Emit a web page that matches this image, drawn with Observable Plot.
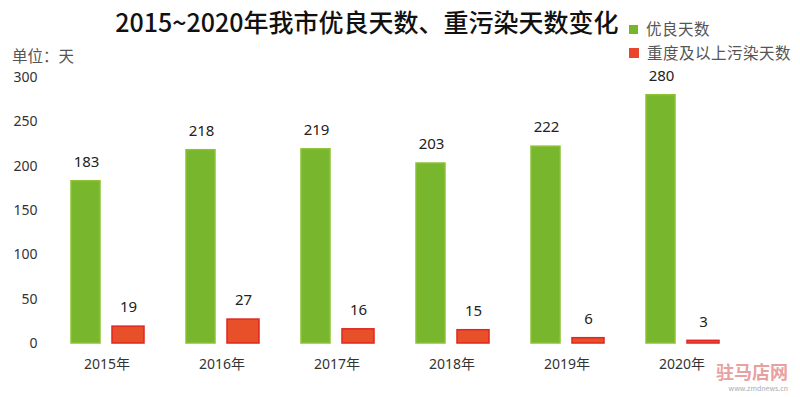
<!DOCTYPE html>
<html>
<head>
<meta charset="utf-8">
<script src="https://cdn.jsdelivr.net/npm/d3@7"></script>
<script src="https://cdn.jsdelivr.net/npm/@observablehq/plot@0.6"></script>
<style>
  html, body { margin: 0; padding: 0; background: #fff; }
  #wrap { position: relative; width: 800px; height: 397px; overflow: hidden;
          font-family: "Noto Sans CJK SC", "Noto Sans", sans-serif; }
  #title { position: absolute; left: 0; top: 8px; width: 734px; text-align: center; line-height: 1.1;
           font-size: 25px; font-weight: 500; color: #111; white-space: nowrap; }
  #unit { position: absolute; left: 12px; top: 48px; font-size: 15.5px; line-height: 1; color: #555; }
  .leg { position: absolute; left: 629px; font-size: 15.5px; line-height: 1.2; color: #555; white-space: nowrap; letter-spacing: 0.5px; }
  .leg i { display: inline-block; width: 9px; height: 9px; margin-right: 8px; vertical-align: 1px; }
  #wm { position: absolute; left: 716px; top: 362px; font-size: 18px; line-height: 1; color: #e9a0a0; font-weight: bold; }
  #wm2 { position: absolute; right: 12px; top: 385px; font-size: 7px; line-height: 1; color: #aaa; white-space: nowrap; }
</style>
</head>
<body>
<div id="wrap">
  <div id="chart"></div>
  <div id="title">2015~2020年我市优良天数、重污染天数变化</div>
  <div id="unit">单位：天</div>
  <div class="leg" style="top:19px"><i style="background:#76b62c"></i>优良天数</div>
  <div class="leg" style="top:43px"><i style="background:#e8452a;width:10px;height:10px"></i>重度及以上污染天数</div>
  <div id="wm">驻马店网</div>
  <div id="wm2">www.zmdnews.cn</div>
</div>
<script>
const years = ["2015年", "2016年", "2017年", "2018年", "2019年", "2020年"];
const seriesNames = ["优良天数", "重度及以上污染天数"];
const goodDays = [183, 218, 219, 203, 222, 280];
const heavyDays = [19, 27, 16, 15, 6, 3];
const yTicks = [0, 50, 100, 150, 200, 250, 300];

const rows = [];
years.forEach((y, i) => {
  rows.push({year: y, series: seriesNames[0], value: goodDays[i]});
  rows.push({year: y, series: seriesNames[1], value: heavyDays[i]});
});

const chart = Plot.plot({
  width: 800,
  height: 397,
  marginTop: 77,
  marginBottom: 54,
  marginLeft: 48,
  marginRight: 60,
  style: {fontFamily: '"Noto Sans", "Noto Sans CJK SC", sans-serif', fontSize: "14px", color: "#333", background: "transparent"},
  fx: {domain: years, padding: 0, label: null, tickSize: 0, tickPadding: 16},
  x: {domain: seriesNames, paddingInner: 0.25, paddingOuter: 0.48, axis: null},
  y: {domain: [0, 300], ticks: yTicks, label: null, tickSize: 0, tickPadding: 12},
  color: {domain: seriesNames, range: ["#78b62d", "#e8502a"]},
  marks: [
    Plot.barY(rows.filter(d => d.series === seriesNames[0]), {fx: "year", x: "series", y: "value", fill: "series",
      stroke: "#8cc234", strokeWidth: 1.5, insetLeft: 1, insetRight: 2}),
    Plot.barY(rows.filter(d => d.series === seriesNames[1]), {fx: "year", x: "series", y: "value", fill: "series",
      stroke: "#e0261f", strokeWidth: 1.5}),
    Plot.text(rows, {fx: "year", x: "series", y: "value", text: d => String(d.value),
      dy: -19, fontSize: 15, fill: "#222"})
  ]
});
document.getElementById("chart").appendChild(chart);
</script>
</body>
</html>
